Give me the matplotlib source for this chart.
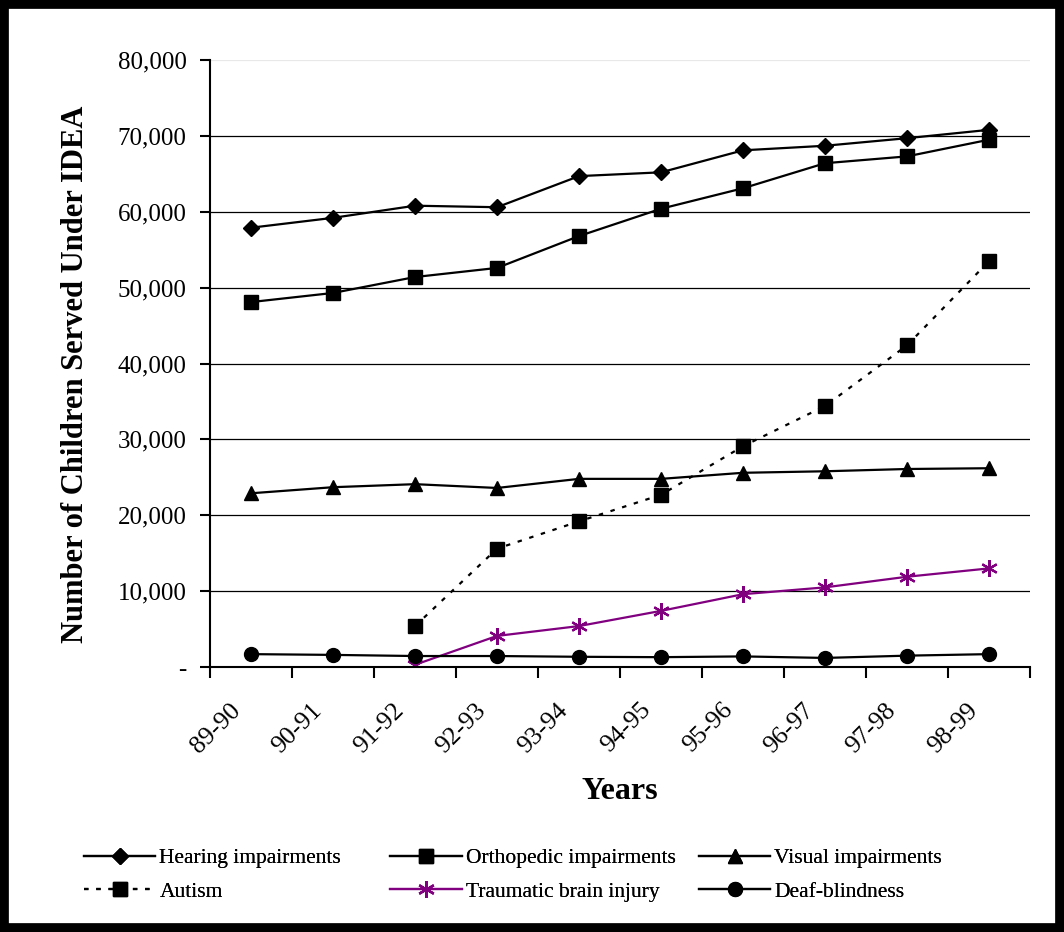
import numpy as np
import matplotlib as mpl
mpl.use('Agg')
import matplotlib.pyplot as plt
import matplotlib.transforms as mtransforms
from matplotlib.patches import Rectangle
from matplotlib.ticker import FuncFormatter, FixedLocator

plt.rcParams['font.family'] = ['Liberation Serif', 'DejaVu Serif']

years = ["89-90", "90-91", "91-92", "92-93", "93-94",
         "94-95", "95-96", "96-97", "97-98", "98-99"]

hearing = [57900, 59200, 60800, 60600, 64700, 65200, 68100, 68700, 69700, 70800]
orthopedic = [48100, 49300, 51400, 52600, 56800, 60400, 63100, 66400, 67300, 69500]
visual = [22900, 23700, 24100, 23600, 24800, 24800, 25600, 25800, 26100, 26200]
autism = [None, None, 5400, 15600, 19200, 22700, 29100, 34400, 42400, 53500]
tbi = [None, None, 300, 4100, 5400, 7400, 9600, 10500, 11900, 13000]
deaf_blind = [1700, 1600, 1450, 1450, 1350, 1300, 1400, 1200, 1500, 1700]


def arr(v):
    return np.array([np.nan if a is None else a for a in v], dtype=float)


fig = plt.figure(figsize=(10.64, 9.32), dpi=100)
ax = fig.add_axes([0.1974, 0.2843, 0.7707, 0.6513])

x = np.arange(len(years)) + 0.5

l_hear, = ax.plot(x, arr(hearing), color='black', lw=1.6, marker='D', ms=8)
l_orth, = ax.plot(x, arr(orthopedic), color='black', lw=1.6, marker='s', ms=9.5)
l_vis, = ax.plot(x, arr(visual), color='black', lw=1.6, marker='^', ms=9.5)
l_aut, = ax.plot(x, arr(autism), color='black', lw=1.6, ls=(0, (2, 3.5)),
                 marker='s', ms=9.5)
l_tbi, = ax.plot(x, arr(tbi), color='#800080', lw=1.6, marker=(6, 2, 0),
                 ms=12, mew=1.6)
l_db, = ax.plot(x, arr(deaf_blind), color='black', lw=1.6, marker='o', ms=10)

ax.set_xlim(0, len(years))
ax.set_ylim(0, 80000)

# tick marks at category boundaries, rotated labels at category centres
ax.xaxis.set_major_locator(FixedLocator(np.arange(len(years) + 1)))
ax.set_xticklabels([])
ax.tick_params(axis='x', which='major', direction='out', length=8, width=1.5)
lab_trans = mtransforms.offset_copy(
    mtransforms.blended_transform_factory(ax.transData, ax.transAxes),
    fig=fig, x=-22, y=-32, units='dots')
for xi, yr in zip(x, years):
    ax.text(xi, 0, yr, transform=lab_trans, rotation=45, ha='right', va='top',
            rotation_mode='anchor', fontsize=18.5)

ax.set_yticks(np.arange(0, 80001, 10000))
ax.yaxis.set_major_formatter(FuncFormatter(
    lambda v, p: '-' if v == 0 else f"{int(v):,}"))
ax.tick_params(axis='y', direction='out', length=7, width=1.5, labelsize=18, pad=10)

for yv in range(10000, 80001, 10000):
    ax.axhline(yv, color='black' if yv < 80000 else '#e8e8e8', lw=0.9, zorder=0)

for side in ['top', 'right']:
    ax.spines[side].set_visible(False)
ax.spines['left'].set_linewidth(1.5)
ax.spines['bottom'].set_linewidth(1.5)

ax.set_ylabel('Number of Children Served Under IDEA', fontsize=22,
              fontweight='bold')
ax.yaxis.set_label_coords(-0.146, 0.483)
ax.set_xlabel('Years', fontsize=23, fontweight='bold')
ax.xaxis.set_label_coords(0.5, -0.181)

# legend: three columns placed separately
columns = [
    (0.079, [(l_hear, 'Hearing impairments'), (l_aut, 'Autism')]),
    (0.367, [(l_orth, 'Orthopedic impairments'), (l_tbi, 'Traumatic brain injury')]),
    (0.657, [(l_vis, 'Visual impairments'), (l_db, 'Deaf-blindness')]),
]
for xpos, items in columns:
    leg = fig.legend([h for h, _ in items], [t for _, t in items],
                     loc='upper left', bbox_to_anchor=(xpos, 0.090),
                     frameon=False, fontsize=15.5, handlelength=3.3,
                     handletextpad=0.2, labelspacing=0.62,
                     borderpad=0, borderaxespad=0)
    fig.add_artist(leg)

# heavy frame around the whole figure
fig.patches.append(Rectangle((0.004, 0.004), 0.992, 0.992, transform=fig.transFigure,
                             fill=False, edgecolor='black', lw=7))

fig.savefig('out.png', dpi=100)
